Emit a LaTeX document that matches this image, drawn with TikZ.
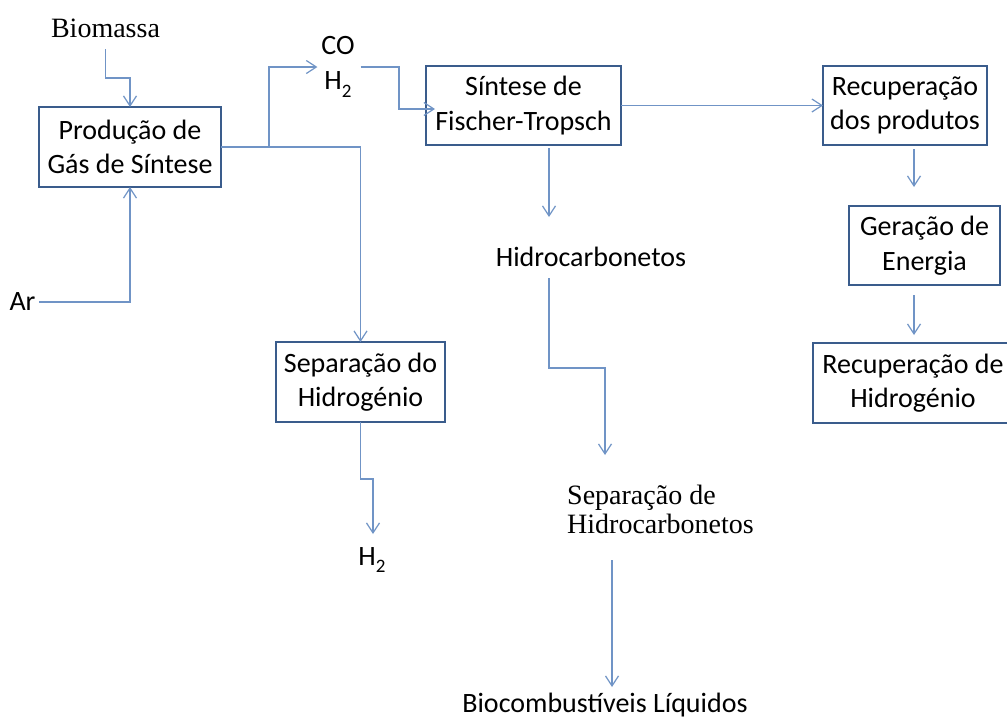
\documentclass[tikz,border=0pt]{standalone}
\usepackage{fontspec}
\setmainfont{Carlito}
\newfontfamily\seriffont{Liberation Serif}
\usetikzlibrary{arrows.meta,calc}
\definecolor{linec}{RGB}{112,148,198}
\definecolor{boxc}{RGB}{58,92,140}
\newcommand\mysubtwo{\raisebox{-0.28em}{\fontsize{19}{19}\selectfont 2}}
\begin{document}
\begin{tikzpicture}[x=1pt,y=-1pt,
  every node/.style={font=\fontsize{28}{34.5}\selectfont, align=center, inner sep=0pt, outer sep=0pt},
  box/.style={draw=boxc, line width=1.8pt},
  conn/.style={draw=linec, line width=1.2pt},
  arr/.style={-{Straight Barb[length=10pt,width=13pt]}},
  serifstyle/.style={font=\seriffont\fontsize{28}{29}\selectfont}
]
\fill[white] (0,0) rectangle (1007,724);
\useasboundingbox (0,0) rectangle (1007,724);
\clip (0,0) rectangle (1007,724);

% boxes
\node[box, minimum width=182pt, minimum height=80pt] (prod) at (130,147) {Produção de\\Gás de Síntese};
\node[box, minimum width=195pt, minimum height=79pt] (synth) at (523.5,105.5) {Síntese de\\Fischer-Tropsch};
\node[box, minimum width=164pt, minimum height=79pt] (recp) at (905,105.5) {Recuperação\\dos produtos};
\node[box, minimum width=151pt, minimum height=79pt] (ger) at (924.5,245.5) {Geração de\\Energia};
\node[box, minimum width=200pt, minimum height=80pt] (rech) at (913,383) {Recuperação de\\Hidrogénio};
\node[box, minimum width=169pt, minimum height=80pt] (seph) at (360.5,382) {Separação do\\Hidrogénio};

% free texts
\node[serifstyle] (bio) at (105.5,28) {Biomassa};
\node (ar) at (22.5,302) {Ar};
\node (co) at (338,67) {CO\\H\mysubtwo};
\node (hc) at (591,257) {Hidrocarbonetos};
\node[serifstyle, align=left] (sephc) at (660.5,509) {Separação de\\Hidrocarbonetos};
\node (h2b) at (372,560) {H\mysubtwo};
\node (bioc) at (605,705) {Biocombustíveis Líquidos};

% helper coordinates
\coordinate (j1) at (269,147);
\coordinate (j2) at (399,109);
\coordinate (xh) at (549,0);
\coordinate (j3) at (605,368);
\coordinate (xs) at (612,0);
\coordinate (j4) at (373,479);
\coordinate (xr) at (914,0);

% connectors
\draw[conn,arr] (bio.center) ++(0,21) -- ++(0,29) -| (prod.north);
\draw[conn,arr] (ar.east) ++(4,0) -| (prod.south);
\draw[conn,arr] (prod.east) -| (seph.north);
\draw[conn,arr,shorten >=4pt] (j1) |- (co.west);
\draw[conn,arr,shorten >=-9pt] (co.east) ++(6,0) -| (j2) -- (synth.west |- j2);
\draw[conn,arr] (synth.east) -- (recp.west);
\draw[conn,arr] (synth.south -| xh) ++(0,3) -- ++(0,69);
\draw[conn,arr] (hc.center -| xh) ++(0,21) |- (j3) -- ++(0,87);
\draw[conn,arr] (sephc.center -| xs) ++(0,51) -- ++(0,127);
\draw[conn,arr] (seph.south) |- (j4) -- ++(0,55);
\draw[conn,arr] (recp.south -| xr) ++(0,4) -- ++(0,38);
\draw[conn,arr] (ger.south -| xr) ++(0,10) -- ++(0,40);
\end{tikzpicture}
\end{document}
